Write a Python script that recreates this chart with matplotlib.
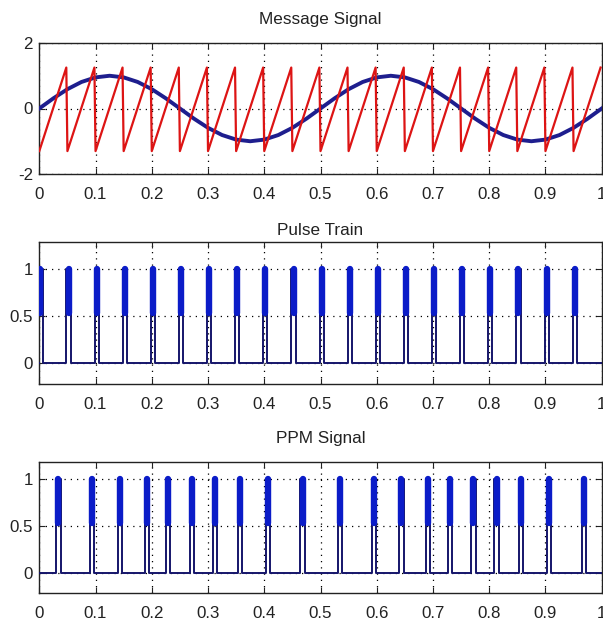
import matplotlib
matplotlib.use("Agg")
import matplotlib.pyplot as plt

plt.rcParams['font.family'] = ['Liberation Sans', 'DejaVu Sans']

# ---------------- data ----------------
xticks = [0, 0.1, 0.2, 0.3, 0.4, 0.5, 0.6, 0.7, 0.8, 0.9, 1.0]
xtick_labels = ["0", "0.1", "0.2", "0.3", "0.4", "0.5", "0.6", "0.7", "0.8", "0.9", "1"]

# message signal (sampled)
msg_t = [0.000, 0.025, 0.050, 0.075, 0.100, 0.125, 0.150, 0.175, 0.200, 0.225,
         0.250, 0.275, 0.300, 0.325, 0.350, 0.375, 0.400, 0.425, 0.450, 0.475,
         0.500, 0.525, 0.550, 0.575, 0.600, 0.625, 0.650, 0.675, 0.700, 0.725,
         0.750, 0.775, 0.800, 0.825, 0.850, 0.875, 0.900, 0.925, 0.950, 0.975, 1.000]
msg_v = [0.00, 0.31, 0.59, 0.81, 0.95, 1.00, 0.95, 0.81, 0.59, 0.31,
         0.00, -0.31, -0.59, -0.81, -0.95, -1.00, -0.95, -0.81, -0.59, -0.31,
         0.00, 0.31, 0.59, 0.81, 0.95, 1.00, 0.95, 0.81, 0.59, 0.31,
         0.00, -0.31, -0.59, -0.81, -0.95, -1.00, -0.95, -0.81, -0.59, -0.31, 0.00]

# sawtooth carrier: trough and peak instants / levels
saw_low_t = [0.00, 0.05, 0.10, 0.15, 0.20, 0.25, 0.30, 0.35, 0.40, 0.45,
             0.50, 0.55, 0.60, 0.65, 0.70, 0.75, 0.80, 0.85, 0.90, 0.95]
saw_high_t = [0.048, 0.098, 0.148, 0.198, 0.248, 0.298, 0.348, 0.398, 0.448, 0.498,
              0.548, 0.598, 0.648, 0.698, 0.748, 0.798, 0.848, 0.898, 0.948, 0.998]
saw_low = -1.30
saw_high = 1.25

# pulse train centres
train_centers = [0.002, 0.052, 0.102, 0.152, 0.202, 0.252, 0.302, 0.352, 0.402, 0.452,
                 0.502, 0.552, 0.602, 0.652, 0.702, 0.752, 0.802, 0.852, 0.902, 0.952]
# PPM pulse centres
ppm_centers = [0.034, 0.094, 0.144, 0.191, 0.229, 0.271, 0.312, 0.357, 0.407, 0.468,
               0.535, 0.595, 0.644, 0.691, 0.731, 0.772, 0.813, 0.856, 0.907, 0.969]
pulse_width = 0.0074

titles = ["Message Signal", "Pulse Train", "PPM Signal"]

# ---------------- styling ----------------
NAVY = '#15156a'
BLUE = '#0b1cc8'
SINE = '#1e1e8e'
RED = '#dd1414'
TXT = '#222222'

fig = plt.figure(figsize=(6.03, 6.24), dpi=100)
W, H = 603.0, 624.0
left = 39.3 / W
width = 562.4 / W

def make_ax(top_px, bot_px):
    return fig.add_axes([left, 1 - bot_px / H, width, (bot_px - top_px) / H])

def style(ax, ylim, yticks, ylabels, title, tpad):
    ax.set_xlim(0, 1)
    ax.set_ylim(*ylim)
    ax.set_xticks(xticks)
    ax.set_xticklabels(xtick_labels)
    ax.set_yticks(yticks)
    ax.set_yticklabels(ylabels)
    ax.tick_params(direction='in', length=4, width=0.8, top=True, right=True,
                   labelsize=12.2, labelcolor=TXT, color='#222222')
    ax.tick_params(axis='x', pad=9.5)
    ax.tick_params(axis='y', pad=4.5)
    ax.set_axisbelow(True)
    ax.grid(True, color='black', linestyle=(0, (1, 4)), linewidth=0.9)
    for s in ax.spines.values():
        s.set_linewidth(1.0)
        s.set_color('#222222')
    ax.set_title(title, fontsize=12.3, pad=tpad, color=TXT)

def pulse_path(centers, w):
    xs, ys = [0.0], [0.0]
    for c in centers:
        a, b = c - w / 2, c + w / 2
        xs += [a, a, b, b]
        ys += [0, 1, 1, 0]
    xs.append(1.0)
    ys.append(0.0)
    return xs, ys

# --- Message signal ---
ax1 = make_ax(43, 174)
saw_t, saw_v = [], []
for lo, hi in zip(saw_low_t, saw_high_t):
    saw_t += [lo, hi]
    saw_v += [saw_low, saw_high]
ax1.plot(msg_t, msg_v, color=SINE, linewidth=2.8, solid_joinstyle='round', zorder=3)
ax1.plot(saw_t, saw_v, color=RED, linewidth=1.6, zorder=4)
style(ax1, (-2, 2), [-2, 0, 2], ["-2", "0", "2"], titles[0], 13.7)

# --- Pulse train ---
ax2 = make_ax(242, 384)
px, py = pulse_path(train_centers, pulse_width)
ax2.plot(px, py, color=NAVY, linewidth=1.4, zorder=3)
ax2.vlines(train_centers, 0.53, 1.0, colors=BLUE, linewidth=4.6, capstyle='round', zorder=4)
style(ax2, (-0.22, 1.29), [0, 0.5, 1], ["0", "0.5", "1"], titles[1], 5)

# --- PPM signal ---
ax3 = make_ax(461.7, 593.3)
qx, qy = pulse_path(ppm_centers, pulse_width)
ax3.plot(qx, qy, color=NAVY, linewidth=1.4, zorder=3)
ax3.vlines(ppm_centers, 0.53, 1.0, colors=BLUE, linewidth=4.6, capstyle='round', zorder=4)
style(ax3, (-0.21, 1.18), [0, 0.5, 1], ["0", "0.5", "1"], titles[2], 13.7)

fig.savefig("out.png", dpi=100, facecolor='white')
